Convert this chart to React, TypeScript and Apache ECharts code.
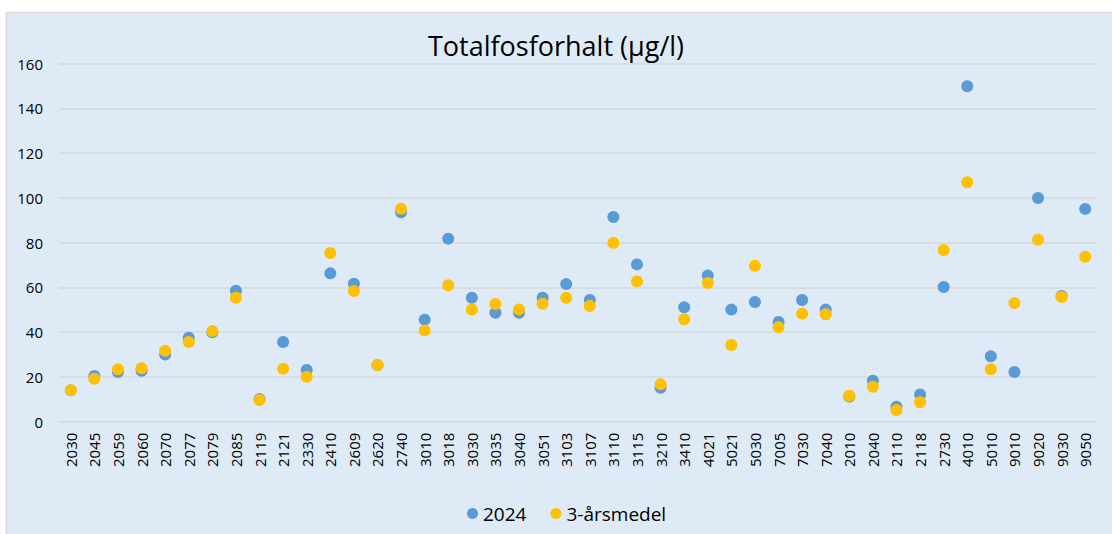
import React, { useEffect, useRef } from "react";
import * as echarts from "echarts";

const categories = [
  "2030", "2045", "2059", "2060", "2070", "2077", "2079", "2085", "2119", "2121",
  "2330", "2410", "2609", "2620", "2740", "3010", "3018", "3030", "3035", "3040",
  "3051", "3103", "3107", "3110", "3115", "3210", "3410", "4021", "5021", "5030",
  "7005", "7030", "7040", "2010", "2040", "2110", "2118", "2730", "4010", "5010",
  "9010", "9020", "9030", "9050",
];

const values2024 = [
  14, 20.4, 22.2, 22.8, 30, 37.5, 40, 58.5, 10.1, 35.6,
  23.1, 66.3, 61.7, 25.3, 93.6, 45.6, 81.8, 55.4, 48.7, 48.7,
  55.4, 61.5, 54.4, 91.5, 70.3, 15.2, 51.1, 65.3, 50.1, 53.5,
  44.6, 54.4, 50.1, 11.2, 18.3, 6.7, 12.2, 60.2, 149.9, 29.2,
  22.2, 100, 56.2, 95.1,
];

const valuesAvg = [
  14, 19.2, 23.4, 23.9, 31.7, 35.6, 40.5, 55.4, 9.7, 23.7,
  20.1, 75.4, 58.4, 25.3, 95.2, 40.8, 61, 50.1, 52.6, 50.2,
  52.7, 55.4, 51.7, 79.9, 62.7, 16.7, 45.8, 62, 34.3, 69.7,
  42.2, 48.3, 48, 11.6, 15.6, 5.2, 8.7, 76.7, 107, 23.4,
  53, 81.3, 55.7, 73.7,
];

const yTicks = { min: 0, max: 160, interval: 20 };

const FONT = "'Open Sans', 'Liberation Sans', sans-serif";

export default function App() {
  const ref = useRef<HTMLDivElement>(null);
  useEffect(() => {
    if (!ref.current) return;
    const chart = echarts.init(ref.current, undefined, { renderer: "svg" });
    chart.setOption({
      animation: false,
      backgroundColor: "#ffffff",
      textStyle: { fontFamily: FONT },
      graphic: [
        {
          type: "rect",
          z: -10,
          silent: true,
          shape: { x: 6.5, y: 12.5, width: 1120, height: 540 },
          style: { fill: "#DEEBF7", stroke: "#D9D9D9", lineWidth: 1.5 },
        },
      ],
      title: {
        text: "Totalfosforhalt (µg/l)",
        left: "center",
        top: 27,
        textStyle: { fontFamily: FONT, fontSize: 27, fontWeight: "normal", color: "#000000" },
      },
      legend: {
        left: 462,
        top: 499,
        itemWidth: 11,
        itemHeight: 11,
        itemGap: 24,
        icon: "circle",
        textStyle: { fontFamily: FONT, fontSize: 19, color: "#000000" },
        data: ["2024", "3-årsmedel"],
      },
      grid: { left: 59, right: 15, top: 63.7, bottom: 112.3, containLabel: false },
      xAxis: {
        type: "category",
        data: categories,
        boundaryGap: true,
        axisLine: { show: true, lineStyle: { color: "#D9D9D9" } },
        axisTick: { show: false },
        axisLabel: {
          rotate: 90,
          interval: 0,
          margin: 11,
          fontFamily: FONT,
          fontSize: 15,
          color: "#000000",
        },
        splitLine: { show: false },
      },
      yAxis: {
        type: "value",
        min: yTicks.min,
        max: yTicks.max,
        interval: yTicks.interval,
        axisLine: { show: false },
        axisTick: { show: false },
        axisLabel: { margin: 16, fontFamily: FONT, fontSize: 15, color: "#000000" },
        splitLine: { show: true, lineStyle: { color: "#D9D9D9", width: 1.5 } },
      },
      series: [
        {
          name: "2024",
          type: "scatter",
          data: values2024,
          symbol: "circle",
          symbolSize: 12,
          itemStyle: { color: "#5B9BD5", opacity: 1 },
        },
        {
          name: "3-årsmedel",
          type: "scatter",
          data: valuesAvg,
          symbol: "circle",
          symbolSize: 12,
          itemStyle: { color: "#FFC000", opacity: 1 },
        },
      ],
    });
    return () => chart.dispose();
  }, []);
  return (
    <div
      ref={ref}
      style={{ position: "absolute", left: 0, top: 0, width: 1112, height: 534 }}
    />
  );
}
